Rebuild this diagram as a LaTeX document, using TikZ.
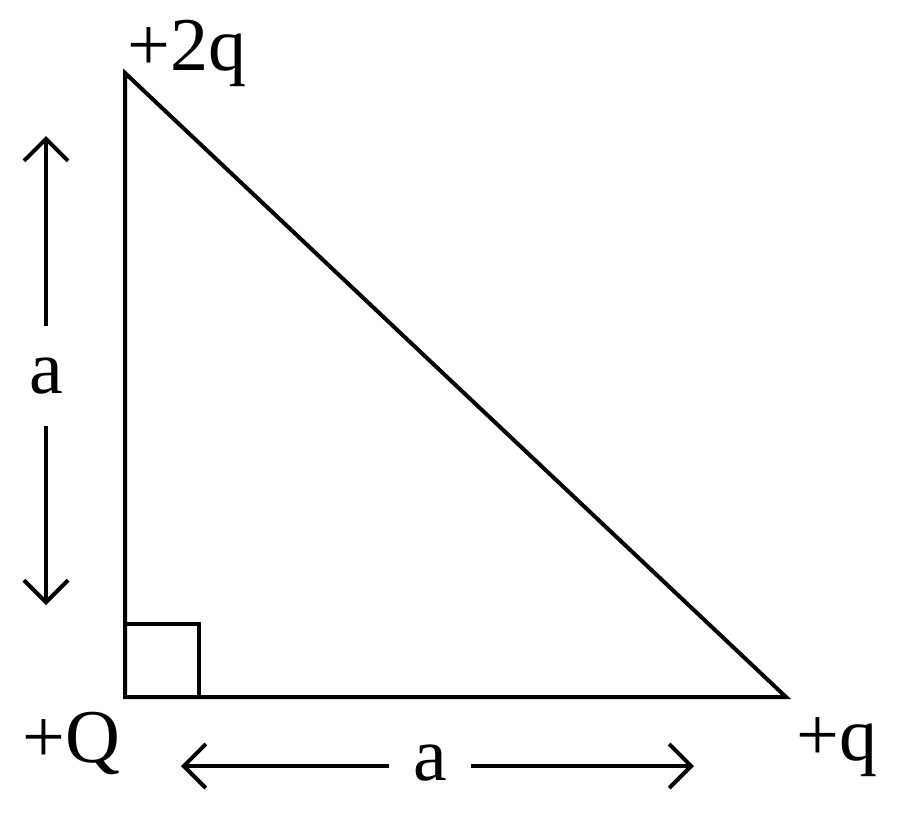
\documentclass[tikz,border=0pt]{standalone}
\usepackage{fontspec}
\setmainfont{Liberation Serif}
\usetikzlibrary{arrows.meta}
\begin{document}
\begin{tikzpicture}[x=1pt,y=-1pt,
  edge/.style={line width=4pt,line join=miter},
  dimarrow/.style={line width=4pt,-{Straight Barb[length=22pt,width=44pt,line width=4pt]}},
  lab/.style={inner sep=0pt,font=\fontsize{76}{90}\selectfont},
  dimlab/.style={lab,inner xsep=24pt,inner ysep=32pt}]
\useasboundingbox (0,0) rectangle (900,819);
\coordinate (A) at (125,73);
\coordinate (B) at (125,697);
\coordinate (C) at (786,697);
\coordinate (S1) at (125,624);
\coordinate (S2) at (199,624);
\coordinate (S3) at (199,697);
\draw[edge] (A) -- (B) -- (C) -- cycle;
\draw[edge] (S1) -- (S2) -- (S3);
\node[lab,anchor=base west] (p2q) at (127,70) {+2q};
\node[lab,anchor=base west] (pQ) at (22,762) {+Q};
\node[lab,anchor=base west] (pq) at (796,760) {+q};
\node[dimlab] (va) at (46,376) {a};
\node[dimlab] (ha) at (430,763) {a};
\coordinate (vtop) at (46,136);
\coordinate (vbot) at (46,605);
\coordinate (hleft) at (181,766);
\coordinate (hright) at (694,766);
\draw[dimarrow] (va.north) -- (vtop);
\draw[dimarrow] (va.south) -- (vbot);
\draw[dimarrow] (ha.west |- hleft) -- (hleft);
\draw[dimarrow] (ha.east |- hright) -- (hright);
\end{tikzpicture}
\end{document}
